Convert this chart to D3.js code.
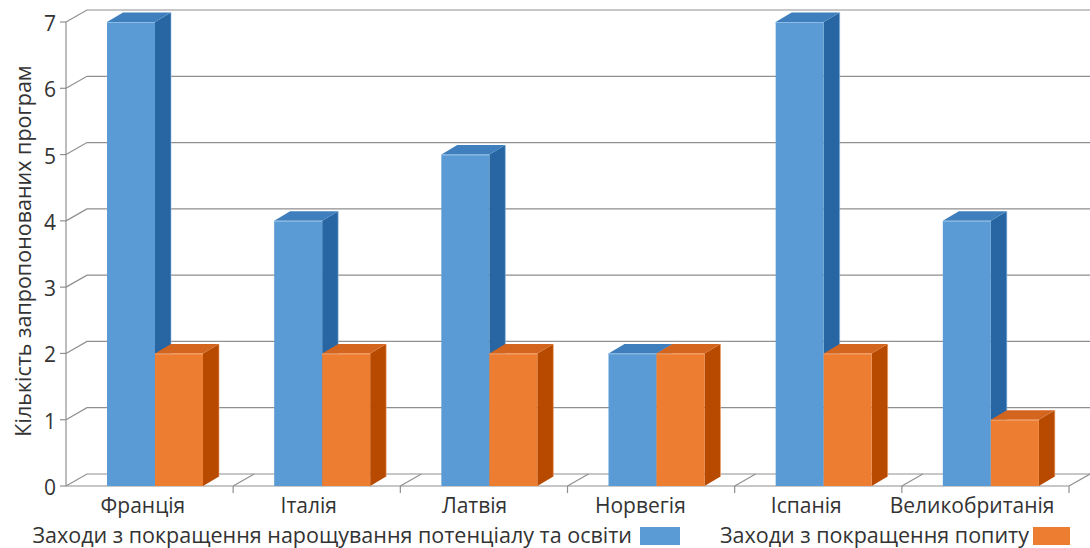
<!DOCTYPE html>
<html>
<head>
<meta charset="utf-8">
<script src="https://cdn.jsdelivr.net/npm/d3@7"></script>
<style>
  html, body { margin: 0; padding: 0; background: #fff; }
  svg { display: block; }
  text { font-family: "Open Sans", "Noto Sans", sans-serif; fill: #333; }
</style>
</head>
<body>
<svg id="chart" width="1090" height="548"></svg>
<script>
// Countries along the x axis
const categories = ["Франція", "Італія", "Латвія", "Норвегія", "Іспанія", "Великобританія"];
// Number of proposed programmes per country
const capacityValues = [7, 4, 5, 2, 7, 4];
const demandValues = [2, 2, 2, 2, 2, 1];
const seriesNames = [
  "Заходи з покращення нарощування потенціалу та освіти",
  "Заходи з покращення попиту"
];
const yTicks = [0, 1, 2, 3, 4, 5, 6, 7];
const yTitle = "Кількість запропонованих програм";

const seriesColors = [
  { front: "#5B9BD5", top: "#3F7FBE", side: "#2866A3", edge: "#8DBBE6" },
  { front: "#ED7D31", top: "#D3651F", side: "#B84A00", edge: "#F3A46E" }
];

const svg = d3.select("#chart");

// Plot frame (front plane) and the 3D depth offset of the back wall
const plotLeft = 66, plotRight = 1069, plotTop = 22, plotBottom = 486;
const depth = { dx: 21, dy: -12 };
const barDepth = { dx: 16, dy: -9.5 };

const x = d3.scaleBand().domain(categories).range([plotLeft, plotRight]);
const xLabel = d3.scaleBand().domain(categories).range([60, 1055]);
const y = d3.scaleLinear().domain([0, 7]).range([plotBottom, plotTop]);
const xSeries = d3.scaleBand().domain(d3.range(seriesNames.length)).range([41, 41 + 96]);

const grid = svg.append("g").attr("stroke", "#8F8F8F").attr("stroke-width", 1.2).attr("fill", "none");

// Back wall gridlines with their diagonal links to the value axis
yTicks.forEach(v => {
  const yy = y(v);
  grid.append("path").attr("d", `M${plotLeft},${yy}L${plotLeft + depth.dx},${yy + depth.dy}L${plotRight + depth.dx},${yy + depth.dy}`);
  grid.append("line").attr("x1", plotLeft - 6).attr("x2", plotLeft).attr("y1", yy).attr("y2", yy);
});

// Value axis line
grid.append("line").attr("x1", plotLeft).attr("x2", plotLeft).attr("y1", y(7)).attr("y2", y(0));

// Floor: front edge, category dividers and their depth diagonals
grid.append("line").attr("x1", plotLeft).attr("x2", plotRight).attr("y1", y(0)).attr("y2", y(0));
const boundaries = categories.map(c => x(c)).concat([plotRight]);
boundaries.forEach((bx, i) => {
  if (i === 0) return;
  grid.append("line").attr("x1", bx).attr("x2", bx).attr("y1", y(0)).attr("y2", y(0) + 7);
  grid.append("line").attr("x1", bx).attr("x2", bx + depth.dx).attr("y1", y(0)).attr("y2", y(0) + depth.dy);
});

// 3D bars
const bars = svg.append("g");
categories.forEach((c, ci) => {
  [capacityValues[ci], demandValues[ci]].forEach((v, si) => {
    const col = seriesColors[si];
    const x0 = x(c) + xSeries(si);
    const x1 = x0 + xSeries.bandwidth();
    const yt = y(v), yb = y(0);
    const g = bars.append("g");
    // side face
    g.append("path").attr("fill", col.side)
      .attr("d", `M${x1},${yt}L${x1 + barDepth.dx},${yt + barDepth.dy}L${x1 + barDepth.dx},${yb + barDepth.dy}L${x1},${yb}Z`);
    // top face
    g.append("path").attr("fill", col.top)
      .attr("d", `M${x0},${yt}L${x0 + barDepth.dx},${yt + barDepth.dy}L${x1 + barDepth.dx},${yt + barDepth.dy}L${x1},${yt}Z`);
    // front face
    g.append("rect").attr("fill", col.front)
      .attr("x", x0).attr("y", yt).attr("width", x1 - x0).attr("height", yb - yt);
    // light edge highlights
    g.append("line").attr("stroke", col.edge).attr("stroke-width", 1)
      .attr("x1", x0).attr("x2", x1).attr("y1", yt + 0.5).attr("y2", yt + 0.5);
    g.append("line").attr("stroke", col.edge).attr("stroke-width", 1).attr("opacity", 0.6)
      .attr("x1", x1 + barDepth.dx).attr("x2", x1 + barDepth.dx).attr("y1", yt + barDepth.dy).attr("y2", yb + barDepth.dy);
  });
});

// Value axis labels
svg.append("g").selectAll("text").data(yTicks).join("text")
  .attr("x", plotLeft - 10).attr("y", d => y(d) + 1)
  .attr("text-anchor", "end").attr("dominant-baseline", "central")
  .style("font-size", "21px")
  .text(d => d);

// Category labels
svg.append("g").selectAll("text").data(categories).join("text")
  .attr("x", d => xLabel(d) + xLabel.bandwidth() / 2).attr("y", 513)
  .attr("text-anchor", "middle")
  .style("font-size", "21px")
  .text(d => d);

// Axis title
svg.append("text")
  .attr("transform", "translate(31,251) rotate(-90)")
  .attr("text-anchor", "middle")
  .style("font-size", "21.5px")
  .text(yTitle);

// Legend
const legend = svg.append("g");
legend.append("text").attr("x", 632).attr("y", 543).attr("text-anchor", "end")
  .style("font-size", "21.5px").text(seriesNames[0]);
legend.append("rect").attr("x", 640).attr("y", 527).attr("width", 40).attr("height", 18).attr("fill", seriesColors[0].front);
legend.append("text").attr("x", 720).attr("y", 543).attr("text-anchor", "start")
  .style("font-size", "21.5px").text(seriesNames[1]);
legend.append("rect").attr("x", 1033).attr("y", 527).attr("width", 37).attr("height", 18).attr("fill", seriesColors[1].front);
</script>
</body>
</html>
